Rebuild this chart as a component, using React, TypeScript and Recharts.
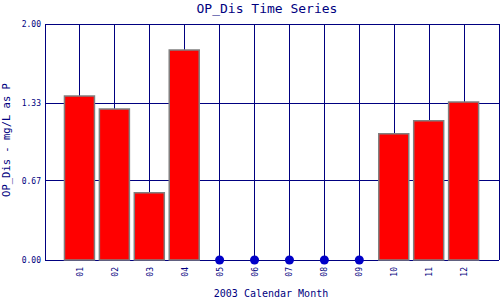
import React from "react";
import {
  ComposedChart,
  Bar,
  Scatter,
  XAxis,
  YAxis,
  CartesianGrid,
  ReferenceLine,
  Label,
} from "recharts";

const months = ["01", "02", "03", "04", "05", "06", "07", "08", "09", "10", "11", "12"];
const opDis = [1.39, 1.28, 0.57, 1.78, 0, 0, 0, 0, 0, 1.07, 1.18, 1.34];
const yTicks = [0, 0.67, 1.33, 2.0];
const xTicks = [1, 2, 3, 4, 5, 6, 7, 8, 9, 10, 11, 12];

const NAVY = "#000080";
const MONO = "DejaVu Sans Mono, monospace";

const data = months.map((m, i) => ({ x: i + 1, month: m, v: opDis[i] }));
const zeros = data.filter((d) => d.v === 0);

const MonthTick = ({ x, y, payload }: any) => (
  <text
    transform={`translate(${x + 3},${y + 5}) rotate(-90)`}
    textAnchor="end"
    fontSize={8}
    fontFamily={MONO}
    fill={NAVY}
  >
    {months[payload.value - 1]}
  </text>
);

export default function App() {
  return (
    <div style={{ position: "absolute", left: 0, top: 0, width: 500, height: 300, background: "#fff" }}>
      <style>{`.opdis line, .opdis rect { shape-rendering: crispEdges; }`}</style>
      <div
        style={{
          position: "absolute",
          left: 117,
          top: 0,
          width: 300,
          textAlign: "center",
          fontFamily: MONO,
          fontSize: 13,
          lineHeight: "17px",
          color: NAVY,
        }}
      >
        OP_Dis Time Series
      </div>
      <ComposedChart
        className="opdis"
        width={500}
        height={300}
        data={data}
        margin={{ top: 24, right: 1, bottom: 0, left: 0 }}
      >
        <CartesianGrid stroke={NAVY} strokeWidth={1} horizontalValues={yTicks} verticalValues={xTicks} />
        <XAxis
          dataKey="x"
          type="number"
          domain={[0, 13]}
          ticks={xTicks}
          height={40}
          axisLine={false}
          tickLine={false}
          tickSize={0}
          tick={<MonthTick />}
          interval={0}
        >
          <Label
            content={() => (
              <text x={271} y={297} textAnchor="middle" fontSize={10} fontFamily={MONO} fill={NAVY}>
                2003 Calendar Month
              </text>
            )}
          />
        </XAxis>
        <YAxis
          type="number"
          domain={[0, 2]}
          ticks={yTicks}
          width={45}
          axisLine={{ stroke: NAVY }}
          tickLine={false}
          tickSize={0}
          tickMargin={4}
          tickFormatter={(v: number) => v.toFixed(2)}
          tick={{ fontSize: 8, fill: NAVY, fontFamily: MONO }}
        >
          <Label
            content={() => (
              <text
                transform="translate(10,140) rotate(-90)"
                textAnchor="middle"
                fontSize={10.5}
                fontFamily={MONO}
                fill={NAVY}
              >
                OP_Dis - mg/L as P
              </text>
            )}
          />
        </YAxis>
        <ReferenceLine x={13} stroke={NAVY} />
        <Bar dataKey="v" barSize={30} fill="#ff0000" stroke="#808080" strokeWidth={1.5} isAnimationActive={false} />
        <Scatter data={zeros} dataKey="v" fill="#0000c8" shape="circle" isAnimationActive={false} />
      </ComposedChart>
    </div>
  );
}
